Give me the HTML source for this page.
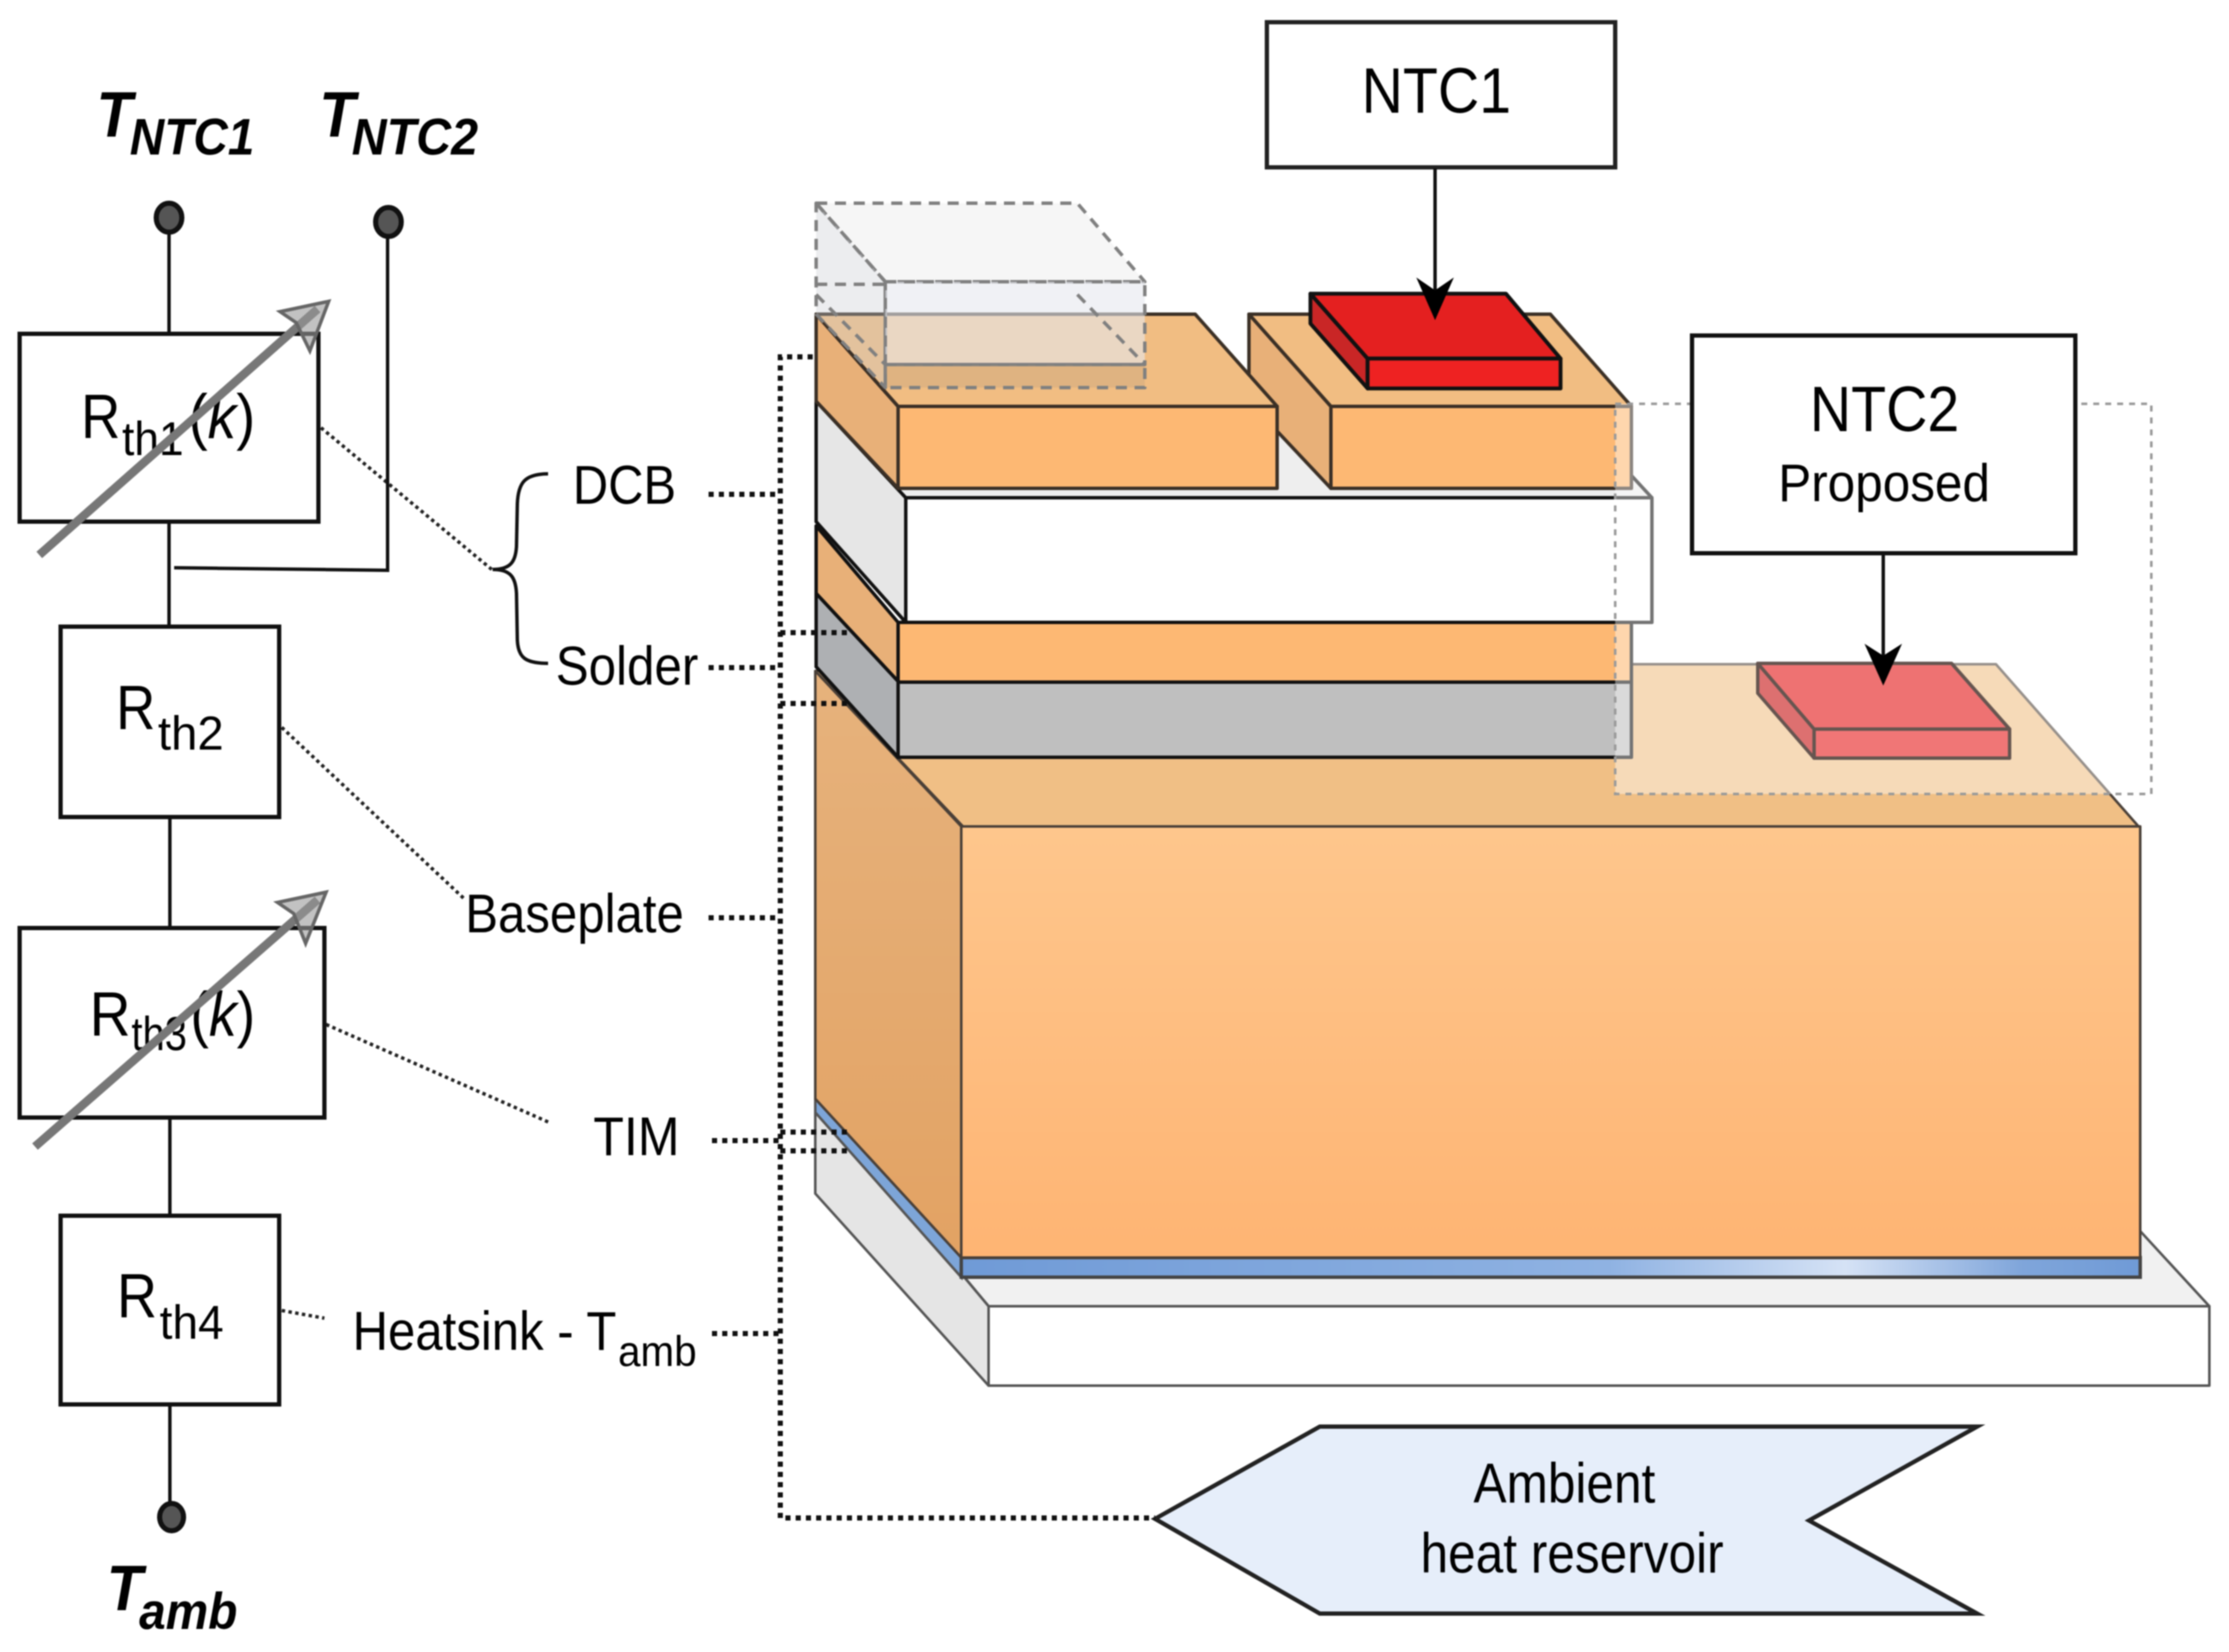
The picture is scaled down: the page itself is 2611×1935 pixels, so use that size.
<!DOCTYPE html>
<html><head><meta charset="utf-8">
<style>html,body{margin:0;padding:0;background:#fff}svg{display:block;filter:blur(.7px)}
text{font-family:"Liberation Sans",sans-serif;fill:#000}
.bi{font-weight:bold;font-style:italic}
</style></head><body>
<svg width="2611" height="1935" viewBox="0 0 2611 1935" xmlns="http://www.w3.org/2000/svg">
<defs>
<linearGradient id="gf" x1="0" y1="0" x2="0" y2="1"><stop offset="0" stop-color="#fec68c"/><stop offset="1" stop-color="#feb473"/></linearGradient>
<linearGradient id="gs" x1="0" y1="0" x2="0" y2="1"><stop offset="0" stop-color="#e6b27c"/><stop offset="1" stop-color="#e2a263"/></linearGradient>
<linearGradient id="gb" x1="0" y1="0" x2="1" y2="0"><stop offset="0" stop-color="#6f9ad6"/><stop offset=".55" stop-color="#8fb2e2"/><stop offset=".75" stop-color="#d5e2f5"/><stop offset=".9" stop-color="#7fa5da"/><stop offset="1" stop-color="#6f9ad6"/></linearGradient>
</defs>
<!-- Heatsink -->
<g stroke="#555" stroke-width="3" stroke-linejoin="round">
<polygon points="955,1287 1158,1530 2588,1530 2507,1442 2507,1400 1100,1400" fill="#f1f1f1"/>
<polygon points="955,1287 1158,1530 1158,1623 955,1398" fill="#e5e5e5"/>
<rect x="1158" y="1530" width="1430" height="93" fill="#fff"/>
</g>
<!-- TIM -->
<polygon points="955,1287 1126,1473 1126,1496 955,1303" fill="#7da5d8" stroke="#555" stroke-width="3"/>
<rect x="1126" y="1473" width="1381" height="23" fill="url(#gb)" stroke="#444" stroke-width="4"/>
<!-- Baseplate -->
<g stroke="#4a4038" stroke-width="3" stroke-linejoin="round">
<polygon points="955,786 1128,968 2505,968 2338,778 1000,778" fill="#f0bf85"/>
<polygon points="955,786 1126,968 1126,1473 955,1287" fill="url(#gs)"/>
<rect x="1126" y="968" width="1381" height="505" fill="url(#gf)"/>
</g>
<!-- Upper stack -->
<g stroke="#111" stroke-width="4" stroke-linejoin="round">
<polygon points="956,695 1052,798 1052,887 956,781" fill="#aeb0b3"/>
<rect x="1052" y="799" width="859" height="88" fill="#bfbfbf"/>
<polygon points="956,616 1052,729 1052,798 956,695" fill="#e8b078"/>
<rect x="1052" y="729" width="859" height="70" fill="#fdb873"/>
<polygon points="956,470 1470,470 1911,557 1935,583 1061,583" fill="#eeeeee" stroke="none"/>
<polygon points="956,470 1061,583 1061,729 956,611" fill="#e6e6e6"/>
<rect x="1061" y="583" width="874" height="146" fill="#fff"/>
<polyline points="1911,557 1935,583" fill="none"/>
</g>
<g stroke="#3b3026" stroke-width="4" stroke-linejoin="round">
<polygon points="1463,368 1559,476 1559,572 1463,470" fill="#e8b078"/>
<polygon points="1463,368 1816,368 1911,476 1559,476" fill="#f1bd82"/>
<rect x="1559" y="476" width="352" height="96" fill="#fdb873"/>
<polygon points="956,368 1052,476 1052,572 956,470" fill="#e8b078"/>
<polygon points="956,368 1400,368 1496,476 1052,476" fill="#f1bd82"/>
<rect x="1052" y="476" width="444" height="96" fill="#fdb873"/>
</g>
<!-- NTC1 chip -->
<g stroke="#111" stroke-width="4.5" stroke-linejoin="round">
<polygon points="1535,344 1602,420 1602,455 1535,379" fill="#c92626"/>
<polygon points="1535,344 1764,344 1828,420 1602,420" fill="#e42020"/>
<rect x="1602" y="420" width="226" height="35" fill="#ee2222"/>
</g>
<!-- ghost chip -->
<g stroke="#808080" stroke-width="4" stroke-dasharray="13 9" stroke-linejoin="round">
<polygon points="956,238 1262,238 1341,330 1037,330" fill="#e0e0e0" fill-opacity=".3"/>
<polygon points="956,238 1037,330 1037,454 956,368" fill="#c8ccd0" fill-opacity=".35"/>
<rect x="1037" y="330" width="304" height="97" fill="#e6e8ee" fill-opacity=".6"/>
<rect x="1037" y="427" width="304" height="27" fill="#a09080" fill-opacity=".22"/>
<polyline points="956,333 1037,333" fill="none"/>
<polyline points="956,345 1037,427" fill="none"/>
<polyline points="1262,345 1341,427" fill="none"/>
</g>
<!-- translucent NTC2 region -->
<polygon points="1892,473 2520,473 2520,930 1892,930" fill="#fff" fill-opacity=".42"/>
<polygon points="1892,473 2520,473 2520,930 1892,930" fill="none" stroke="#9a9a9a" stroke-width="3" stroke-dasharray="7 7"/>
<g stroke="#665550" stroke-width="4" stroke-linejoin="round">
<polygon points="2059,777 2125,854 2125,888 2059,812" fill="#dd7070"/>
<polygon points="2059,777 2286,777 2354,854 2125,854" fill="#ee7272"/>
<rect x="2125" y="854" width="229" height="34" fill="#f07676"/>
</g>
<!-- NTC boxes -->
<rect x="1489" y="26" width="408" height="170" fill="#fff" stroke="#222" stroke-width="5" transform="translate(-5,0)"/>
<text x="1595" y="132" font-size="75" textLength="175" lengthAdjust="spacingAndGlyphs">NTC1</text>
<rect x="1982" y="393" width="449" height="255" fill="#fff" stroke="#111" stroke-width="5"/>
<text x="2120" y="505" font-size="75" textLength="175" lengthAdjust="spacingAndGlyphs">NTC2</text>
<text x="2083" y="587" font-size="62" textLength="248" lengthAdjust="spacingAndGlyphs">Proposed</text>
<line x1="1686" y1="197" x2="1686" y2="340" stroke="#111" stroke-width="4" transform="translate(-5,0)"/>
<polygon points="1681,375 1659,325 1681,340 1703,325" fill="#000"/>
<line x1="2206" y1="650" x2="2206" y2="770" stroke="#111" stroke-width="4"/>
<polygon points="2206,803 2184,754 2206,768 2228,754" fill="#000"/>
<!-- Ambient arrow -->
<polygon points="1353,1779 1546,1671 2316,1671 2119,1781 2316,1890 1546,1890" fill="#e6eefa" stroke="#222" stroke-width="5" stroke-linejoin="miter"/>
<text x="1726" y="1760" font-size="66" textLength="213" lengthAdjust="spacingAndGlyphs">Ambient</text>
<text x="1664" y="1842" font-size="66" textLength="355" lengthAdjust="spacingAndGlyphs">heat reservoir</text>
<!-- Dotted connectors (thick) -->
<g fill="none" stroke="#111" stroke-width="6" stroke-dasharray="6 6">
<polyline points="952,418 914,418 914,1778 1353,1778"/>
<polyline points="914,741 998,741"/>
<polyline points="914,824 998,824"/>
<line x1="830" y1="579" x2="914" y2="579"/>
<line x1="830" y1="782" x2="914" y2="782"/>
<line x1="830" y1="1075" x2="914" y2="1075"/>
<line x1="834" y1="1336" x2="914" y2="1336"/>
<line x1="914" y1="1326" x2="993" y2="1326"/>
<line x1="914" y1="1348" x2="993" y2="1348"/>
<line x1="834" y1="1562" x2="914" y2="1562"/>
</g>
<!-- Dotted connectors (thin) -->
<g fill="none" stroke="#222" stroke-width="4" stroke-dasharray="4 4">
<line x1="376" y1="501" x2="576" y2="667"/>
<line x1="330" y1="852" x2="543" y2="1052"/>
<line x1="382" y1="1200" x2="644" y2="1315"/>
<line x1="330" y1="1535" x2="380" y2="1544"/>
</g>
<!-- Brace -->
<path d="M642,555 C615,555 607,565 606,590 L605,640 C604,658 598,667 577,667 C598,667 604,676 605,695 L606,750 C607,770 615,777 642,777" fill="none" stroke="#111" stroke-width="4"/>
<!-- Circuit -->
<g fill="none" stroke="#111" stroke-width="4">
<line x1="198" y1="255" x2="198" y2="392"/>
<line x1="198" y1="610" x2="198" y2="735"/>
<line x1="199" y1="958" x2="199" y2="1088"/>
<line x1="199" y1="1309" x2="199" y2="1424"/>
<line x1="199" y1="1645" x2="199" y2="1777"/>
<polyline points="204,665 454,668 454,260"/>
</g>
<ellipse cx="198" cy="255" rx="15" ry="17" fill="#555" stroke="#111" stroke-width="6"/>
<ellipse cx="455" cy="260" rx="15" ry="17" fill="#555" stroke="#111" stroke-width="6"/>
<ellipse cx="201" cy="1777" rx="14" ry="16" fill="#555" stroke="#111" stroke-width="6"/>
<g fill="#fff" stroke="#111" stroke-width="5">
<rect x="23" y="391" width="350" height="220"/>
<rect x="71" y="734" width="256" height="223"/>
<rect x="23" y="1087" width="357" height="222"/>
<rect x="71" y="1424" width="256" height="221"/>
</g>
<!-- Labels in boxes -->
<text x="95" y="513" font-size="73" textLength="46" lengthAdjust="spacingAndGlyphs">R</text>
<text x="143" y="533" font-size="56" textLength="72" lengthAdjust="spacingAndGlyphs">th1</text>
<text x="221" y="513" font-size="73" textLength="78" lengthAdjust="spacingAndGlyphs">(<tspan font-style="italic">k</tspan>)</text>
<text x="136" y="854" font-size="73" textLength="46" lengthAdjust="spacingAndGlyphs">R</text>
<text x="185" y="878" font-size="56" textLength="77" lengthAdjust="spacingAndGlyphs">th2</text>
<text x="105" y="1213" font-size="73" textLength="48" lengthAdjust="spacingAndGlyphs">R</text>
<text x="154" y="1230" font-size="56" textLength="65" lengthAdjust="spacingAndGlyphs">th3</text>
<text x="223" y="1213" font-size="73" textLength="76" lengthAdjust="spacingAndGlyphs">(<tspan font-style="italic">k</tspan>)</text>
<text x="137" y="1543" font-size="73" textLength="47" lengthAdjust="spacingAndGlyphs">R</text>
<text x="187" y="1568" font-size="56" textLength="75" lengthAdjust="spacingAndGlyphs">th4</text>
<!-- Variable arrows -->
<g fill="none" stroke="#777" stroke-width="10" stroke-linejoin="miter">
<line x1="46" y1="650" x2="372" y2="362"/>
<line x1="41" y1="1343" x2="372" y2="1054"/>
</g>
<g fill="#9a9a9a" fill-opacity=".6" stroke="#666" stroke-width="4">
<polygon points="385,353 328,365 347,378 363,411"/>
<polygon points="382,1045 325,1057 344,1070 358,1105"/>
</g>
<!-- Side labels -->
<text x="671" y="590" font-size="64" textLength="121" lengthAdjust="spacingAndGlyphs">DCB</text>
<text x="651" y="802" font-size="64" textLength="167" lengthAdjust="spacingAndGlyphs">Solder</text>
<text x="545" y="1092" font-size="64" textLength="256" lengthAdjust="spacingAndGlyphs">Baseplate</text>
<text x="695" y="1353" font-size="64" textLength="101" lengthAdjust="spacingAndGlyphs">TIM</text>
<text x="413" y="1581" font-size="64" textLength="309" lengthAdjust="spacingAndGlyphs">Heatsink - T</text>
<text x="724" y="1600" font-size="50" textLength="92" lengthAdjust="spacingAndGlyphs">amb</text>
<!-- T labels -->
<text class="bi" x="113" y="160" font-size="75" textLength="42" lengthAdjust="spacingAndGlyphs">T</text>
<text class="bi" x="152" y="181" font-size="60" textLength="146" lengthAdjust="spacingAndGlyphs">NTC1</text>
<text class="bi" x="374" y="160" font-size="75" textLength="42" lengthAdjust="spacingAndGlyphs">T</text>
<text class="bi" x="412" y="181" font-size="60" textLength="148" lengthAdjust="spacingAndGlyphs">NTC2</text>
<text class="bi" x="125" y="1886" font-size="75" textLength="42" lengthAdjust="spacingAndGlyphs">T</text>
<text class="bi" x="163" y="1908" font-size="60" textLength="115" lengthAdjust="spacingAndGlyphs">amb</text>
</svg>
</body></html>
